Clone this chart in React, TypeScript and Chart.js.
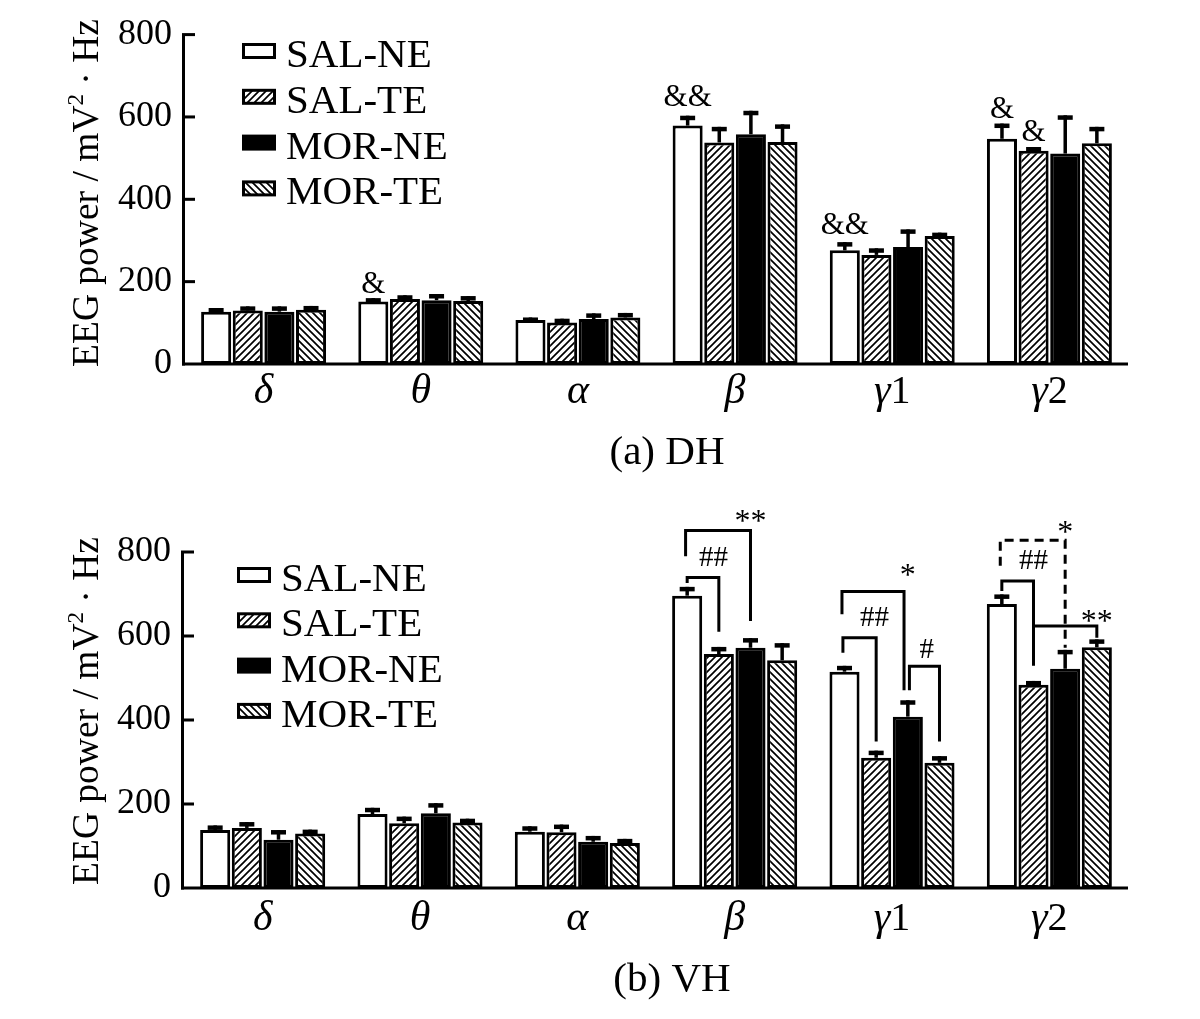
import React, { useEffect, useRef } from 'react';
import { Chart, registerables } from 'chart.js';

Chart.register(...registerables);

const SERIF = '"Liberation Serif", "Times New Roman", serif';

const bands = ['δ', 'θ', 'α', 'β', 'γ1', 'γ2'];
const groups = ['SAL-NE', 'SAL-TE', 'MOR-NE', 'MOR-TE'];
const yTicks = [0, 200, 400, 600, 800];

// (a) DH - group means and upper error (SEM)
const dhSalNe = [127, 152, 107, 579, 276, 547];
const dhSalNeErr = [9, 8, 6, 24, 20, 37];
const dhSalTe = [130, 158, 101, 538, 265, 518];
const dhSalTeErr = [10, 9, 9, 38, 16, 9];
const dhMorNe = [127, 155, 109, 558, 284, 511];
const dhMorNeErr = [13, 15, 14, 57, 43, 93];
const dhMorTe = [132, 153, 113, 539, 311, 536];
const dhMorTeErr = [9, 12, 11, 43, 8, 40];

// (b) VH
const vhSalNe = [138, 176, 134, 696, 515, 676];
const vhSalNeErr = [11, 15, 13, 21, 14, 23];
const vhSalTe = [143, 154, 133, 557, 310, 484];
const vhSalTeErr = [14, 16, 18, 17, 17, 9];
const vhMorNe = [115, 178, 110, 572, 408, 522];
const vhMorNeErr = [23, 24, 14, 23, 39, 45];
const vhMorTe = [130, 156, 107, 542, 298, 573];
const vhMorTeErr = [9, 9, 10, 41, 16, 19];

// significance marks: band, bar (series index, may be fractional), value level
type Mark = { band: number; at: number; y: number; text: string };
type Bracket = { band: number; from: number; to: number; fromEnd: number; top: number; toEnd: number; dashed?: boolean };

const dhMarks: Mark[] = [
  { band: 1, at: 0, y: 197, text: '&' },
  { band: 3, at: 0, y: 651, text: '&&' },
  { band: 4, at: 0, y: 341, text: '&&' },
  { band: 5, at: 0, y: 624, text: '&' },
  { band: 5, at: 1, y: 568, text: '&' },
];

const vhBrackets: Bracket[] = [
  { band: 3, from: 0, to: 1, fromEnd: 726, top: 739, toEnd: 610 },
  { band: 3, from: -0.05, to: 2, fromEnd: 790, top: 851, toEnd: 636 },
  { band: 4, from: -0.05, to: 1, fromEnd: 560, top: 596, toEnd: 349 },
  { band: 4, from: -0.08, to: 1.88, fromEnd: 652, top: 706, toEnd: 471 },
  { band: 4, from: 2.05, to: 3, fromEnd: 471, top: 528, toEnd: 349 },
  { band: 5, from: -0.05, to: 2, fromEnd: 767, top: 828, toEnd: 572, dashed: true },
  { band: 5, from: 0, to: 1, fromEnd: 707, top: 731, toEnd: 529 },
  { band: 5, from: 1, to: 3, fromEnd: 624, top: 624, toEnd: 596 },
];

const vhMarks: Mark[] = [
  { band: 3, at: 0.83, y: 790, text: '##' },
  { band: 3, at: 2, y: 890, text: '**' },
  { band: 4, at: 0.95, y: 648, text: '##' },
  { band: 4, at: 2, y: 760, text: '*' },
  { band: 4, at: 2.6, y: 572, text: '#' },
  { band: 5, at: 2, y: 864, text: '*' },
  { band: 5, at: 1, y: 782, text: '##' },
  { band: 5, at: 3, y: 652, text: '**' },
];

function hatch(dir: number): CanvasPattern | string {
  const s = 7;
  const c = document.createElement('canvas');
  c.width = s;
  c.height = s;
  const g = c.getContext('2d');
  if (!g) return '#888';
  g.fillStyle = '#fff';
  g.fillRect(0, 0, s, s);
  g.strokeStyle = '#000';
  g.lineWidth = 1.7;
  g.beginPath();
  if (dir > 0) {
    g.moveTo(-1, s + 1); g.lineTo(s + 1, -1);
    g.moveTo(-1, 1); g.lineTo(1, -1);
    g.moveTo(s - 1, s + 1); g.lineTo(s + 1, s - 1);
  } else {
    g.moveTo(-1, -1); g.lineTo(s + 1, s + 1);
    g.moveTo(s - 1, -1); g.lineTo(s + 1, 1);
    g.moveTo(-1, s - 1); g.lineTo(1, s + 1);
  }
  g.stroke();
  return g.createPattern(c, 'repeat') || '#888';
}

type Panel = {
  height: number;
  axisLeft: number;
  plotTop: number;
  plotBottom: number;
  tickLabelBase: number;
  titleY: number;
  legendX: number;
  legendY: number;
  legendGap: number;
  caption: string;
  captionX: number;
  captionBase: number;
  means: number[][];
  errs: number[][];
  marks: Mark[];
  brackets: Bracket[];
};

const EegPanel: React.FC<{ p: Panel }> = ({ p }) => {
  const canvasRef = useRef<HTMLCanvasElement>(null);

  useEffect(() => {
    if (!canvasRef.current) return;
    const fills = ['#fff', hatch(1), '#000', hatch(-1)];

    const overlay = {
      id: 'overlay',
      afterDatasetsDraw(chart: any) {
        const { ctx, chartArea: a } = chart;
        const y = chart.scales.y;
        const x = chart.scales.x;
        const barX = (band: number, s: number) => {
          const e0 = chart.getDatasetMeta(0).data[band];
          const e1 = chart.getDatasetMeta(1).data[band];
          return e0.x + (e1.x - e0.x) * s;
        };
        ctx.save();
        ctx.fillStyle = '#000';
        ctx.strokeStyle = '#000';

        // error bars (upper only)
        p.means.forEach((vals, s) => {
          vals.forEach((v, b) => {
            const cx = barX(b, s);
            const yb = y.getPixelForValue(v);
            const yt = y.getPixelForValue(v + p.errs[s][b]);
            ctx.fillRect(cx - 1.75, yt, 3.5, yb - yt);
            ctx.fillRect(cx - 7.5, yt, 15, 4.5);
          });
        });

        // axes with inward ticks
        const y0 = y.getPixelForValue(0);
        const yTop = y.getPixelForValue(yTicks[yTicks.length - 1]);
        ctx.fillRect(a.left - 3, yTop - 1.5, 3, y0 - yTop + 3);
        ctx.fillRect(a.left - 3, y0 - 1.5, a.right - a.left + 3, 3);
        yTicks.slice(1).forEach((v) => {
          const ty = y.getPixelForValue(v);
          ctx.fillRect(a.left, ty - 1.5, 10, 3);
        });

        // category labels: italic greek letter, upright index
        bands.forEach((lab, i) => {
          const cx = x.getPixelForValue(i);
          const g = lab.slice(0, 1);
          const rest = lab.slice(1);
          ctx.font = `italic 42px ${SERIF}`;
          const wg = ctx.measureText(g).width;
          ctx.font = `40px ${SERIF}`;
          const wr = ctx.measureText(rest).width;
          const x0 = cx - (wg + wr) / 2;
          ctx.textAlign = 'left';
          ctx.textBaseline = 'alphabetic';
          ctx.font = `italic 42px ${SERIF}`;
          ctx.fillText(g, x0, p.tickLabelBase);
          ctx.font = `40px ${SERIF}`;
          ctx.fillText(rest, x0 + wg, p.tickLabelBase);
        });

        // y-axis title, rotated
        ctx.save();
        ctx.translate(98, p.titleY);
        ctx.rotate(-Math.PI / 2);
        const big = `37.5px ${SERIF}`;
        const small = `23px ${SERIF}`;
        const parts: [string, string, number][] = [
          ['EEG power / mV', big, 0],
          ['2', small, -15],
          [' · Hz', big, 0],
        ];
        let total = 0;
        parts.forEach(([t, f]) => { ctx.font = f; total += ctx.measureText(t).width; });
        let tx = -total / 2;
        ctx.textAlign = 'left';
        ctx.textBaseline = 'alphabetic';
        parts.forEach(([t, f, dy]) => {
          ctx.font = f;
          ctx.fillText(t, tx, dy);
          tx += ctx.measureText(t).width;
        });
        ctx.restore();

        // legend
        groups.forEach((name, i) => {
          const cy = p.legendY + i * p.legendGap;
          ctx.fillStyle = '#000';
          ctx.fillRect(p.legendX, cy - 8, 34, 16);
          ctx.fillStyle = fills[i];
          if (i !== 2) ctx.fillRect(p.legendX + 3, cy - 5, 28, 10);
          ctx.fillStyle = '#000';
          ctx.font = `41px ${SERIF}`;
          ctx.textAlign = 'left';
          ctx.textBaseline = 'alphabetic';
          ctx.fillText(name, p.legendX + 44, cy + 16);
        });

        // brackets
        ctx.lineWidth = 3;
        ctx.lineJoin = 'miter';
        p.brackets.forEach((br) => {
          const x1 = barX(br.band, br.from);
          const x2 = barX(br.band, br.to);
          ctx.setLineDash(br.dashed ? [9, 6] : []);
          ctx.beginPath();
          ctx.moveTo(x1, y.getPixelForValue(br.fromEnd));
          ctx.lineTo(x1, y.getPixelForValue(br.top));
          ctx.lineTo(x2, y.getPixelForValue(br.top));
          ctx.lineTo(x2, y.getPixelForValue(br.toEnd));
          ctx.stroke();
        });
        ctx.setLineDash([]);

        // significance marks
        p.marks.forEach((m) => {
          const star = m.text.includes('*');
          const size = star ? 32 : m.text.includes('&') ? 31 : 29;
          ctx.font = `${size}px ${SERIF}`;
          ctx.textAlign = 'center';
          ctx.textBaseline = 'alphabetic';
          const shift = star ? 0.52 : 0.34;
          ctx.fillText(m.text, barX(m.band, m.at), y.getPixelForValue(m.y) + shift * size);
        });

        // panel caption
        ctx.font = `41px ${SERIF}`;
        ctx.textAlign = 'center';
        ctx.fillText(p.caption, p.captionX, p.captionBase);
        ctx.restore();
      },
    };

    const chart = new Chart(canvasRef.current, {
      type: 'bar',
      data: {
        labels: bands,
        datasets: groups.map((g, i) => ({
          label: g,
          data: p.means[i],
          backgroundColor: fills[i] as any,
          borderColor: '#000',
          borderWidth: 3,
          borderSkipped: false,
          categoryPercentage: 0.805,
          barPercentage: 0.95,
        })),
      },
      options: {
        responsive: false,
        animation: false,
        layout: { padding: { left: 0, right: 72, top: p.plotTop, bottom: 0 } },
        plugins: { legend: { display: false }, tooltip: { enabled: false } },
        scales: {
          x: {
            grid: { display: false, drawTicks: false },
            border: { display: false },
            ticks: { display: false },
            afterFit: (s: any) => { s.height = p.height - p.plotBottom; },
          },
          y: {
            min: 0,
            max: 800,
            grid: { display: false, drawTicks: false },
            border: { display: false },
            afterBuildTicks: (s: any) => { s.ticks = yTicks.map((v) => ({ value: v })); },
            ticks: { padding: 13, color: '#000', font: { family: SERIF, size: 36 } },
            afterFit: (s: any) => { s.width = p.axisLeft; },
          },
        },
      },
      plugins: [overlay],
    });

    return () => {
      chart.destroy();
    };
  }, [p]);

  return <canvas ref={canvasRef} width={1200} height={p.height} style={{ display: 'block' }} />;
};

const panelA: Panel = {
  height: 490,
  axisLeft: 185,
  plotTop: 31,
  plotBottom: 364,
  tickLabelBase: 403,
  titleY: 193,
  legendX: 242,
  legendY: 51,
  legendGap: 45.8,
  caption: '(a) DH',
  captionX: 667,
  captionBase: 464,
  means: [dhSalNe, dhSalTe, dhMorNe, dhMorTe],
  errs: [dhSalNeErr, dhSalTeErr, dhMorNeErr, dhMorTeErr],
  marks: dhMarks,
  brackets: [],
};

const panelB: Panel = {
  height: 529,
  axisLeft: 184,
  plotTop: 62,
  plotBottom: 398,
  tickLabelBase: 440,
  titleY: 221,
  legendX: 237,
  legendY: 85,
  legendGap: 45.3,
  caption: '(b) VH',
  captionX: 672,
  captionBase: 501,
  means: [vhSalNe, vhSalTe, vhMorNe, vhMorTe],
  errs: [vhSalNeErr, vhSalTeErr, vhMorNeErr, vhMorTeErr],
  marks: vhMarks,
  brackets: vhBrackets,
};

const App: React.FC = () => {
  return (
    <div style={{ position: 'absolute', left: 0, top: 0, width: 1200, height: 1019, background: '#fff' }}>
      <EegPanel p={panelA} />
      <EegPanel p={panelB} />
    </div>
  );
};

export default App;
